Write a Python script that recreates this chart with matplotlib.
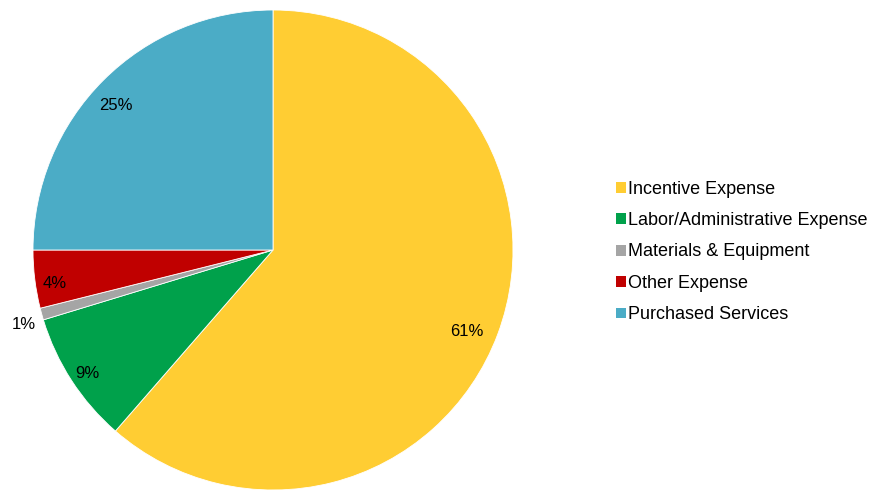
import numpy as np
import matplotlib.pyplot as plt
from matplotlib.patches import Patch

plt.rcParams['font.family'] = ['Liberation Sans', 'DejaVu Sans']

# ============================
# data
# ============================
categories = ["Incentive Expense", "Labor/Administrative Expense",
              "Materials & Equipment", "Other Expense", "Purchased Services"]
shares = [61.4, 8.9, 0.8, 3.9, 25.0]
colors = ["#FFCD33", "#00A14B", "#A5A5A5", "#C00000", "#4BACC6"]

# ============================
# figure
# ============================
fig = plt.figure(figsize=(8.73, 4.91), dpi=100)
W, H = 873, 491
cx, cy, r = 273, 250, 240
lim = 1.02
ax = fig.add_axes([(cx - r * lim) / W, 1 - (cy + r * lim) / H,
                   2 * r * lim / W, 2 * r * lim / H])

wedges, _ = ax.pie(shares, colors=colors, startangle=90, counterclock=False,
                   radius=1.0, wedgeprops=dict(edgecolor="white", linewidth=0.6))
ax.set_xlim(-lim, lim)
ax.set_ylim(-lim, lim)
ax.set_aspect("equal")
ax.axis("off")

# percentage labels (small slices go outside)
for w, v in zip(wedges, shares):
    mid = np.deg2rad((w.theta1 + w.theta2) / 2)
    dist = 1.05 if v < 2 else 0.89
    ax.annotate(f"{round(v):.0f}%", (dist * np.cos(mid), dist * np.sin(mid)),
                xytext=(-4.5, -5), textcoords="offset points",
                ha="center", va="center", fontsize=12, color="black",
                annotation_clip=False)

handles = [Patch(facecolor=c, edgecolor="none") for c in colors]
fig.legend(handles, categories, loc="center left",
           bbox_to_anchor=(616 / W, 1 - 252 / H), frameon=False,
           fontsize=13, handlelength=0.55, handleheight=0.55,
           handletextpad=0.12, labelspacing=0.8, borderpad=0,
           borderaxespad=0)

fig.savefig("out.png", dpi=100)
